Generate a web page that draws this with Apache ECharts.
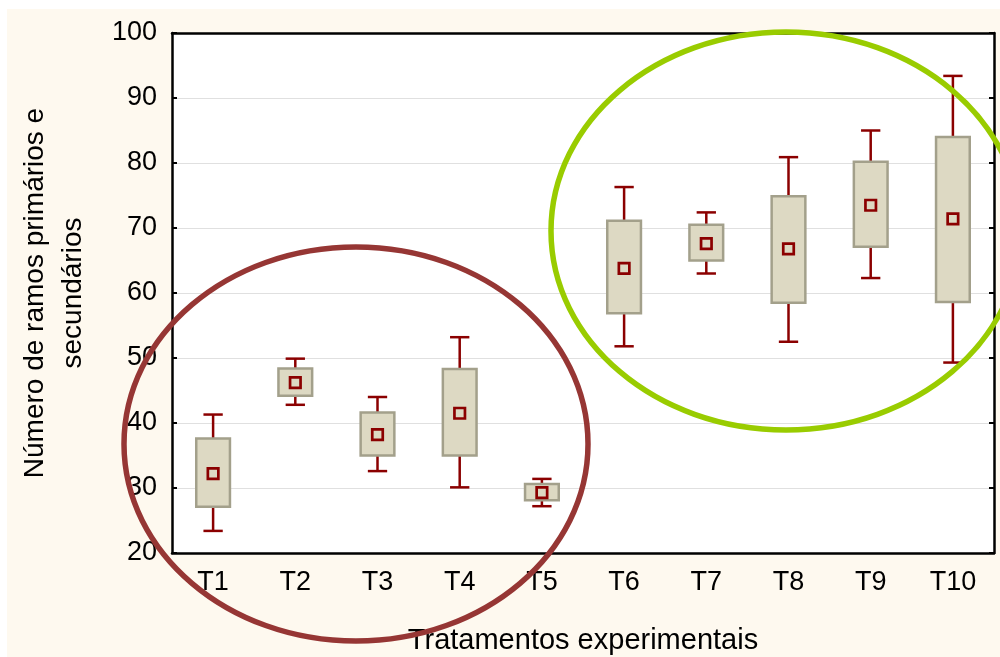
<!DOCTYPE html>
<html>
<head>
<meta charset="utf-8">
<script src="https://cdn.jsdelivr.net/npm/echarts@6/dist/echarts.min.js"></script>
<style>
  html, body { margin:0; padding:0; background:#ffffff; }
  #bg { position:absolute; left:7px; top:9px; width:993px; height:648px; background:#fef9ef; }
  #chart { position:absolute; left:0; top:0; width:1000px; height:657px; }
</style>
</head>
<body>
<div id="bg"></div>
<div id="chart"></div>
<script>
var categories = ['T1','T2','T3','T4','T5','T6','T7','T8','T9','T10'];
var whiskerLow  = [23.4, 42.8, 32.6, 30.1, 27.2, 51.8, 63.0, 52.5, 62.3, 49.3];
var boxLow      = [27.1, 44.2, 35.0, 35.0, 28.1, 56.9, 65.0, 58.5, 67.1, 58.6];
var boxHigh     = [37.6, 48.4, 41.6, 48.3, 30.6, 71.1, 70.5, 74.9, 80.2, 84.0];
var whiskerHigh = [41.3, 49.9, 44.0, 53.2, 31.4, 76.3, 72.4, 80.9, 85.0, 93.4];
var means       = [32.2, 46.2, 38.2, 41.5, 29.3, 63.8, 67.6, 66.8, 73.5, 71.4];
var yTicks = [20, 30, 40, 50, 60, 70, 80, 90, 100];

var RED = '#8b0000', BOX = '#ddd9c3', BORDER = '#a3a08b';
var FONT = 'Liberation Sans, Arial, sans-serif';

var data = categories.map(function (c, i) {
  return [i, whiskerLow[i], boxLow[i], boxHigh[i], whiskerHigh[i], means[i]];
});

var chart = echarts.init(document.getElementById('chart'));
chart.setOption({
  backgroundColor: 'transparent',
  animation: false,
  grid: { left: 172, top: 33, right: 6, bottom: 104, show: true, backgroundColor: '#ffffff', borderWidth: 0,
          containLabel: false, outerBoundsMode: 'none' },
  xAxis: [{
    type: 'category', data: categories, position: 'bottom',
    axisLine: { lineStyle: { color: '#000', width: 2.5 } },
    axisTick: { inside: true, length: 5, alignWithLabel: true, lineStyle: { color: '#000', width: 2 } },
    axisLabel: { color: '#000', fontSize: 27, fontFamily: FONT, margin: 16 },
    name: 'Tratamentos experimentais', nameLocation: 'middle', nameGap: 73,
    nameTextStyle: { color: '#000', fontSize: 29, fontFamily: FONT },
    splitLine: { show: false }
  }, {
    type: 'category', data: categories, position: 'top',
    axisLine: { lineStyle: { color: '#000', width: 2.5 } },
    axisTick: { inside: true, length: 5, alignWithLabel: true, lineStyle: { color: '#000', width: 2 } },
    axisLabel: { show: false }, splitLine: { show: false }
  }],
  yAxis: [{
    type: 'value', min: yTicks[0], max: yTicks[yTicks.length - 1], interval: 10, position: 'left',
    axisLine: { show: true, lineStyle: { color: '#000', width: 2.5 } },
    axisTick: { show: true, inside: true, length: 5, lineStyle: { color: '#000', width: 2 } },
    axisLabel: { color: '#000', fontSize: 27, fontFamily: FONT, margin: 15 },
    splitLine: { show: true, lineStyle: { color: '#e0e0e0', width: 1.2 } },
    name: 'Número de ramos primários e\nsecundários', nameLocation: 'middle', nameGap: 80, nameRotate: 90,
    nameTextStyle: { color: '#000', fontSize: 28, fontFamily: FONT, lineHeight: 38, align: 'center' }
  }, {
    type: 'value', min: yTicks[0], max: yTicks[yTicks.length - 1], interval: 10, position: 'right',
    axisLine: { show: true, lineStyle: { color: '#000', width: 2.5 } },
    axisTick: { show: true, inside: true, length: 5, lineStyle: { color: '#000', width: 2 } },
    axisLabel: { show: false }, splitLine: { show: false }
  }],
  series: [{
    type: 'custom',
    xAxisIndex: 0, yAxisIndex: 0,
    encode: { x: 0, y: [1, 2, 3, 4, 5] },
    data: data,
    renderItem: function (params, api) {
      var x = api.value(0);
      var lo = api.coord([x, api.value(1)]);
      var q1 = api.coord([x, api.value(2)]);
      var q3 = api.coord([x, api.value(3)]);
      var hi = api.coord([x, api.value(4)]);
      var mn = api.coord([x, api.value(5)]);
      var band = api.size([1, 0])[0];
      var bw = band * 0.41, cw = band * 0.235, ms = 10.5;
      var ls = { stroke: RED, lineWidth: 2.5 };
      return { type: 'group', children: [
        { type: 'line', shape: { x1: hi[0], y1: hi[1], x2: lo[0], y2: lo[1] }, style: ls },
        { type: 'line', shape: { x1: hi[0] - cw / 2, y1: hi[1], x2: hi[0] + cw / 2, y2: hi[1] }, style: ls },
        { type: 'line', shape: { x1: lo[0] - cw / 2, y1: lo[1], x2: lo[0] + cw / 2, y2: lo[1] }, style: ls },
        { type: 'rect', shape: { x: q3[0] - bw / 2, y: q3[1], width: bw, height: q1[1] - q3[1] },
          style: { fill: BOX, stroke: BORDER, lineWidth: 2.5 } },
        { type: 'rect', shape: { x: mn[0] - ms / 2, y: mn[1] - ms / 2, width: ms, height: ms },
          style: { fill: BOX, stroke: RED, lineWidth: 2.7 } }
      ]};
    }
  }],
  graphic: [
    { type: 'ellipse', z: 100, shape: { cx: 356, cy: 444, rx: 232, ry: 197 },
      style: { fill: null, stroke: '#963634', lineWidth: 5.5 } },
    { type: 'ellipse', z: 100, shape: { cx: 786, cy: 231, rx: 235, ry: 199 },
      style: { fill: null, stroke: '#99cc00', lineWidth: 5.5 } }
  ]
});
</script>
</body>
</html>
